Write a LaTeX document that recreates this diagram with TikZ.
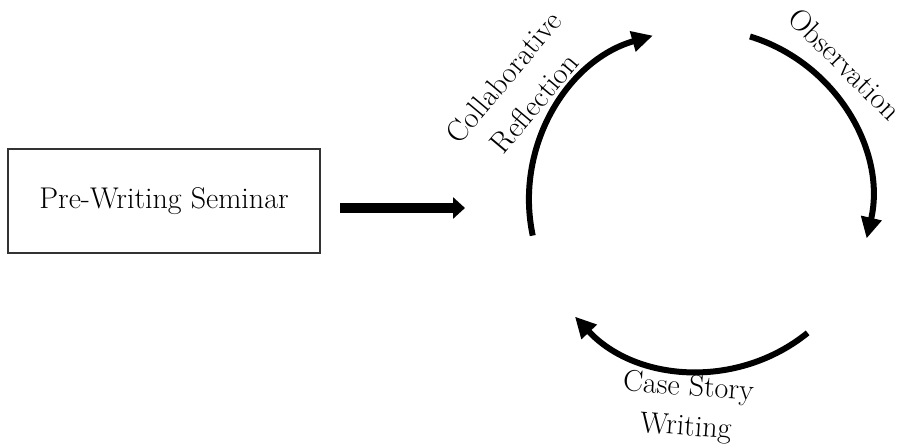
\documentclass[tikz,border=0pt]{standalone}
\usetikzlibrary{arrows.meta}
\begin{document}
\begin{tikzpicture}[x=1pt,y=1pt,
  lbl/.style={font=\fontsize{30}{40}\selectfont, align=center, inner sep=0pt},
  cyc/.style={line width=6pt, -{Triangle[length=21pt,width=20pt]}},
  boxst/.style={draw=black!80, line width=1.2pt, minimum width=312pt, minimum height=104pt, inner sep=0pt, font=\fontsize{30}{36}\selectfont}]
\useasboundingbox (0,0) rectangle (904,447);
\node[boxst] (pre) at (164,246) {Pre-Writing Seminar};
\coordinate (a1) at (340,239);
\coordinate (a2) at (465,239);
\draw[line width=10pt, -{Triangle[length=12pt,width=21pt]}] (a1) -- (a2);
% cycle arcs, centre (700,247), radius 171
\draw[cyc] (700,247) ++(192:171) arc[start angle=192, end angle=106, radius=171];
\draw[cyc] (700,247) ++(73:171) arc[start angle=73, end angle=-13, radius=171];
\draw[cyc] (700,247) ++(-51:171) arc[start angle=-51, end angle=-137, radius=171];
\node[lbl, rotate=50] (refl) at (519,357) {Collaborative\\Reflection};
\node[lbl, rotate=-45] (obs) at (845,383) {Observation};
\node[lbl, rotate=-4] (case) at (687,39) {Case Story\\Writing};
\end{tikzpicture}
\end{document}
